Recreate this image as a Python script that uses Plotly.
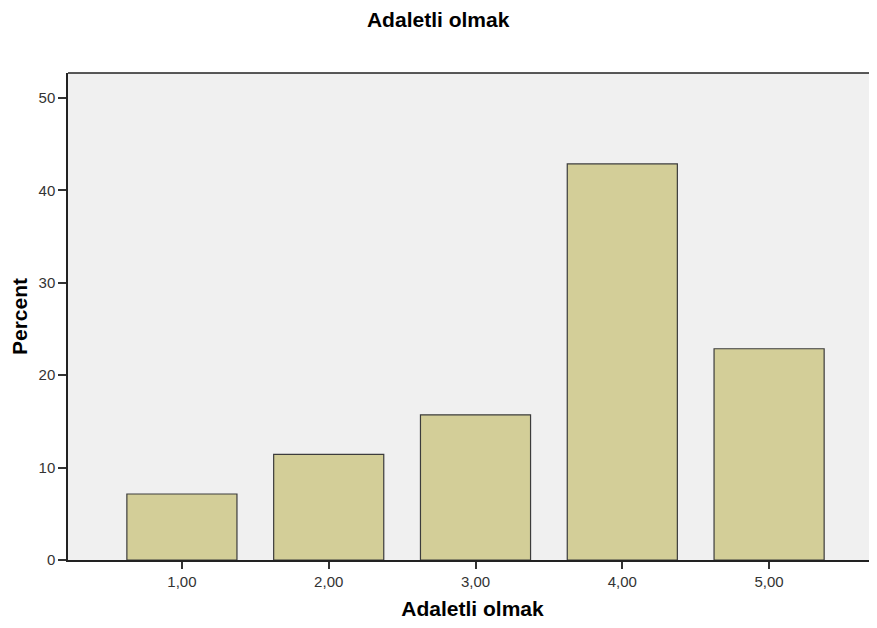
import plotly.graph_objects as go

categories = [1, 2, 3, 4, 5]
tick_labels = ["1,00", "2,00", "3,00", "4,00", "5,00"]
percent = [7.14, 11.43, 15.71, 42.86, 22.86]
y_ticks = [0, 10, 20, 30, 40, 50]

fig = go.Figure()
fig.add_trace(go.Bar(
    x=categories, y=percent, width=0.75,
    marker=dict(color="#D3CE98", line=dict(color="#3c3c3c", width=1.2)),
    hoverinfo="skip",
))

font_family = "Liberation Sans, Arial, sans-serif"
fig.update_layout(
    width=869, height=612,
    margin=dict(l=60, r=0, t=65, b=60),
    paper_bgcolor="white", plot_bgcolor="#F0F0F0",
    showlegend=False,
    title=dict(text="<b>Adaletli olmak</b>", x=0.495, xanchor="center", y=0.993, yanchor="top",
               font=dict(family=font_family, size=21, color="black")),
    font=dict(family=font_family),
)
fig.update_xaxes(
    range=[0.224, 5.735], tickvals=categories, ticktext=tick_labels,
    ticks="outside", ticklen=7, tickwidth=1.5, tickcolor="#333",
    showline=True, linecolor="#222", linewidth=1.5, mirror=False,
    showgrid=False, zeroline=False,
    tickfont=dict(size=15, color="#333", family=font_family),
    title=dict(text="<b>Adaletli olmak</b>", font=dict(size=21, color="black", family=font_family), standoff=16),
)
fig.update_yaxes(
    range=[0, 52.7], tickvals=y_ticks, ticktext=[str(v) for v in y_ticks],
    ticks="outside", ticklen=8, tickwidth=1.5, tickcolor="#333",
    showline=True, linecolor="#222", linewidth=1.5,
    showgrid=False, zeroline=False,
    tickfont=dict(size=15, color="#333", family=font_family),
    title=dict(text="<b>Percent</b>", font=dict(size=21, color="black", family=font_family), standoff=6),
)
fig.add_shape(type="line", xref="paper", yref="paper", x0=0, x1=1, y0=1, y1=1,
              line=dict(color="#222", width=1.5))

fig.write_html("out.html")
